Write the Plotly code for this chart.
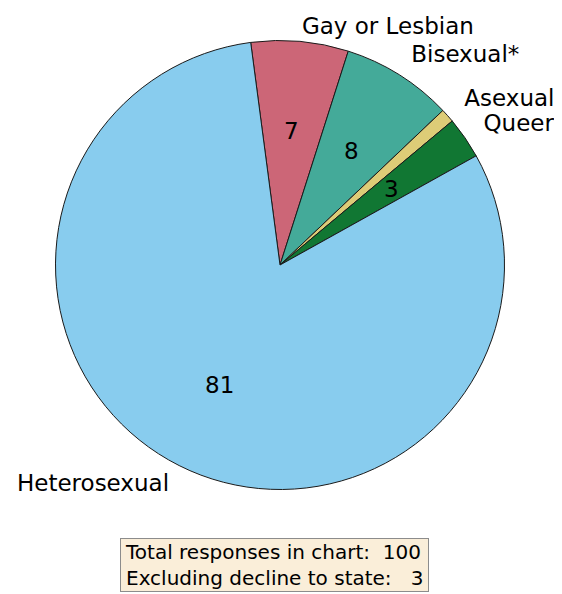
import numpy as np
import plotly.graph_objects as go

labels = ["Gay or Lesbian", "Bisexual*", "Asexual", "Queer", "Heterosexual"]
values = [7, 8, 1, 3, 81]
colors = ["#CC6677", "#44AA99", "#DDCC77", "#117733", "#88CCEE"]
total = 100
declined = 3

rotation = -7.5          # plotly: first slice starts 7.5 deg left of 12 o'clock
label_dist = 1.1         # label radius (in pie radii)
value_dist = 0.6         # value-text radius (in pie radii)

# pie geometry in figure pixels (page is shifted by the 8px body margin)
W, H = 562, 594
cx, cy, r = 272.0, 257.0, 224.5
xdom = [(cx - r) / W, (cx + r) / W]
ydom = [1 - (cy + r) / H, 1 - (cy - r) / H]
# overlay axes: same centre and scale (1 unit = pie radius), wider range
xr = [-1.2, 1.2]
yr = [-1.2, 1.13]
axdom_x = [(cx + xr[0] * r) / W, (cx + xr[1] * r) / W]
axdom_y = [1 - (cy - yr[0] * r) / H, 1 - (cy - yr[1] * r) / H]
font = "DejaVu Sans, Liberation Sans, sans-serif"
top_pad = 20             # keep label centres this many px below the canvas top

vals = np.array(values, dtype=float)
frac = vals / vals.sum()
start = 90.0 - rotation
mid = np.radians(start - (np.cumsum(frac) - frac / 2) * 360.0)
ux, uy = np.cos(mid), np.sin(mid)

fig = go.Figure()
fig.add_trace(go.Pie(
    labels=labels, values=values, sort=False, direction="clockwise", rotation=rotation,
    marker=dict(colors=colors, line=dict(color="#1a1a1a", width=1)),
    textinfo="none", domain=dict(x=xdom, y=ydom), showlegend=False,
    hoverinfo="label+value",
))

# outside category labels
lx = ux * label_dist
ly = np.minimum(uy * label_dist, (cy - top_pad) / r)
pos = ["middle right" if x >= 0 else "middle left" for x in ux]
fig.add_trace(go.Scatter(
    x=lx, y=ly, mode="text", text=labels, textposition=pos,
    textfont=dict(family=font, size=23, color="black"), cliponaxis=False,
    marker=dict(size=1), showlegend=False, hoverinfo="skip",
))

# value texts (tiny slice hidden, like matplotlib's autopct threshold)
for v, x, y in zip(values, ux * value_dist, uy * value_dist):
    if v >= 2:
        fig.add_annotation(
            xref="x", yref="y", x=x, y=y, text=str(v), showarrow=False,
            xanchor="center", yanchor="middle",
            font=dict(family=font, size=23, color="black"),
        )

sp = "\u2009"
fig.add_annotation(
    xref="paper", yref="paper", x=266.5 / W, y=1 - 557 / H,
    xanchor="center", yanchor="middle", align="left",
    text=(f"{sp}Total responses in chart:\u00a0\u00a0{total}{sp}<br>"
          f"{sp}Excluding decline to state:\u00a0\u00a0\u00a0{declined}{sp}"),
    showarrow=False, font=dict(family=font, size=20, color="black"),
    bgcolor="#FAEED9", bordercolor="#8c8c8c", borderwidth=1, borderpad=1,
)

fig.update_layout(
    width=W, height=H, margin=dict(l=0, r=0, t=0, b=0),
    paper_bgcolor="white", plot_bgcolor="rgba(0,0,0,0)",
    xaxis=dict(domain=axdom_x, range=xr, visible=False, fixedrange=True),
    yaxis=dict(domain=axdom_y, range=yr, visible=False, fixedrange=True),
)
fig.write_html("out.html")
